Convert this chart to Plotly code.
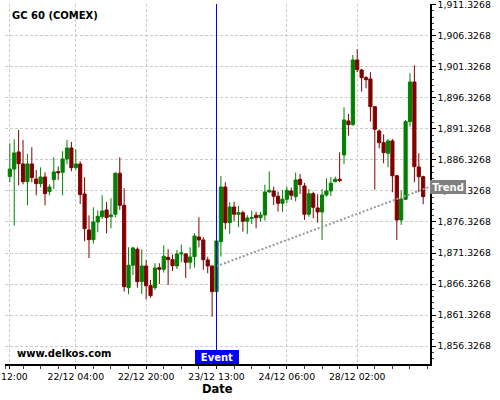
import plotly.graph_objects as go
import pandas as pd

# ---- data -------------------------------------------------------------
title_text = "GC 60 (COMEX)"
site_text = "www.delkos.com"

# hourly candle times (daily break at 23:00, Christmas close 24/12 20:00 -> 28/12 00:00)
_all = pd.date_range("2020-12-21 12:00", "2020-12-28 17:00", freq="h")
times = [t.strftime("%d/%m %H:%M") for t in _all
         if t.hour != 23 and not (pd.Timestamp("2020-12-24 20:00") <= t < pd.Timestamp("2020-12-28 00:00"))]

open_ = [1883.63, 1884.86, 1887.60, 1885.67, 1882.82, 1885.67, 1883.25, 1882.50, 1883.57, 1881.21,
         1883.14, 1884.43, 1884.32, 1886.47, 1888.24, 1885.07, 1885.67, 1880.84, 1875.04, 1873.48,
         1876.33, 1877.19, 1878.26, 1877.19, 1877.57, 1884.17, 1879.02, 1865.75, 1869.36, 1871.93,
         1866.72, 1869.24, 1866.07, 1865.75, 1868.97, 1868.71, 1870.64, 1870.26, 1869.24, 1871.18,
         1871.18, 1869.84, 1870.74, 1873.91, 1873.43, 1870.21, 1869.24, 1865.11, 1873.16, 1881.96,
         1876.22, 1878.74, 1877.57, 1877.83, 1876.44, 1876.92, 1877.41, 1877.02, 1877.45, 1881.16,
         1881.32, 1880.47, 1879.34, 1879.98, 1881.32, 1880.40, 1883.20, 1882.12, 1877.57, 1880.88,
         1878.58, 1877.94, 1880.67, 1881.32, 1882.82, 1883.20, 1887.11, 1892.59, 1891.99, 1902.41,
         1900.80, 1899.56, 1899.35, 1894.89, 1890.98, 1889.10, 1887.39, 1889.37, 1883.78, 1876.65,
         1879.98, 1892.48, 1898.87, 1885.18, 1883.62]
high = [1888.99, 1889.64, 1891.14, 1889.53, 1887.28, 1888.35, 1884.70, 1885.13, 1884.32, 1882.39,
        1886.74, 1885.24, 1887.71, 1889.53, 1889.21, 1888.03, 1886.10, 1883.52, 1877.40, 1878.69,
        1878.21, 1880.62, 1879.55, 1880.14, 1884.33, 1886.74, 1881.75, 1872.25, 1872.35, 1872.25,
        1871.93, 1870.21, 1866.99, 1869.68, 1869.68, 1872.58, 1871.93, 1871.06, 1871.82, 1872.67,
        1871.30, 1872.25, 1874.51, 1877.08, 1873.86, 1870.74, 1869.30, 1873.43, 1883.73, 1882.72,
        1879.50, 1879.60, 1878.90, 1878.15, 1877.41, 1878.15, 1877.99, 1877.94, 1882.33, 1884.49,
        1882.01, 1881.21, 1881.48, 1882.01, 1881.85, 1884.27, 1884.06, 1882.61, 1881.64, 1881.21,
        1880.79, 1881.59, 1883.36, 1883.57, 1883.62, 1887.55, 1894.79, 1893.72, 1903.21, 1904.13,
        1900.96, 1899.83, 1900.43, 1894.95, 1891.25, 1890.45, 1889.69, 1889.69, 1883.90, 1881.37,
        1892.75, 1900.27, 1901.56, 1887.39, 1883.78]
low = [1882.71, 1875.74, 1882.23, 1882.39, 1879.01, 1882.71, 1880.62, 1881.91, 1879.01, 1880.62,
       1881.64, 1883.09, 1880.62, 1885.61, 1884.49, 1884.70, 1879.23, 1873.22, 1870.53, 1872.84,
       1874.66, 1876.81, 1874.50, 1875.31, 1877.08, 1878.26, 1865.11, 1864.69, 1867.79, 1865.75,
       1864.74, 1863.88, 1864.14, 1865.38, 1866.35, 1868.17, 1866.18, 1868.44, 1868.76, 1869.84,
       1867.31, 1868.76, 1868.97, 1872.25, 1868.60, 1868.07, 1861.08, 1865.00, 1870.74, 1875.15,
       1874.40, 1876.38, 1875.47, 1874.77, 1874.40, 1876.01, 1875.31, 1876.38, 1876.54, 1881.05,
       1879.07, 1877.99, 1877.94, 1879.34, 1879.87, 1879.66, 1880.84, 1876.65, 1877.18, 1876.92,
       1876.22, 1873.43, 1880.40, 1880.51, 1882.72, 1882.77, 1885.67, 1890.22, 1891.83, 1900.43,
       1897.31, 1897.85, 1892.48, 1881.53, 1888.19, 1885.78, 1885.13, 1881.11, 1873.43, 1875.85,
       1879.87, 1891.67, 1882.72, 1881.11, 1879.18]
close = [1884.86, 1887.44, 1885.72, 1882.82, 1885.67, 1883.47, 1882.50, 1883.57, 1880.89, 1881.96,
         1884.38, 1884.27, 1886.47, 1888.24, 1885.07, 1885.67, 1880.73, 1875.25, 1873.48, 1876.33,
         1877.24, 1878.10, 1877.03, 1877.45, 1884.17, 1879.02, 1865.91, 1869.36, 1872.14, 1866.72,
         1869.24, 1866.07, 1864.46, 1868.92, 1868.71, 1870.81, 1870.26, 1869.29, 1871.18, 1871.34,
         1869.84, 1870.69, 1874.07, 1873.43, 1870.26, 1869.24, 1865.11, 1873.27, 1881.96, 1876.22,
         1878.74, 1877.57, 1877.83, 1876.44, 1876.97, 1877.02, 1877.02, 1877.45, 1881.16, 1881.43,
         1880.47, 1879.34, 1879.98, 1881.43, 1880.63, 1883.09, 1882.33, 1877.57, 1880.88, 1878.69,
         1877.94, 1880.67, 1881.32, 1882.56, 1883.20, 1882.98, 1892.75, 1891.99, 1902.41, 1900.85,
         1899.56, 1899.24, 1894.89, 1891.25, 1889.10, 1887.49, 1889.37, 1883.78, 1876.65, 1880.03,
         1892.48, 1898.87, 1885.23, 1883.62, 1880.40]

tick_labels = ["21/12 12:00", "22/12 04:00", "22/12 20:00", "23/12 13:00", "24/12 06:00", "28/12 02:00"]
event_time = "23/12 13:00"
event_text = "Event"
trend_text = "Trend"
trend_start_price = 1869.2   # at the event candle
trend_end_price = 1882.0     # at the right edge of the plot
y_tick0 = 1856.3268
y_tick_step = 5
x_title = "Date"

# ---- figure ------------------------------------------------------------
FONT = "DejaVu Sans"
GRID = "#cccccc"
x = list(range(len(times)))
event_x = times.index(event_time)
x_range = [-1.1, 95.55]
y_range = [1853.46, 1911.42]

# first label sits left of its tick in the original (edge-clipped); pad to mimic
NBSP = "\u00a0"
tick_text = [tick_labels[0] + NBSP * 7] + tick_labels[1:]

fig = go.Figure()
fig.add_trace(go.Candlestick(
    x=x, open=open_, high=high, low=low, close=close,
    increasing=dict(line=dict(color="#008000", width=1), fillcolor="#008000"),
    decreasing=dict(line=dict(color="#800000", width=1), fillcolor="#800000"),
    whiskerwidth=0, showlegend=False, hoverinfo="skip"))

fig.add_trace(go.Scatter(
    x=[event_x, x_range[1]], y=[trend_start_price, trend_end_price],
    mode="lines", line=dict(color="#999999", width=2, dash="2px,2px"),
    showlegend=False, hoverinfo="skip"))

fig.add_shape(type="line", xref="x", yref="paper", x0=event_x, x1=event_x, y0=0, y1=1,
              line=dict(color="#0000ff", width=1))

fig.update_layout(
    width=500, height=400,
    margin=dict(l=5, r=70, t=4, b=36),
    paper_bgcolor="white", plot_bgcolor="white",
    boxgap=0.28, boxgroupgap=0,
    font=dict(family=FONT, size=9.3, color="black"),
    xaxis=dict(
        range=x_range, tickmode="array",
        tickvals=[times.index(t) for t in tick_labels], ticktext=tick_text, tickangle=0,
        showgrid=True, gridcolor=GRID, griddash="3px,2px", gridwidth=1,
        showline=True, linecolor="black", linewidth=1.5,
        ticks="outside", ticklen=3, tickcolor="black", tickwidth=1,
        minor=dict(tick0=-1, dtick=4, ticks="outside", ticklen=3, tickcolor="#444", showgrid=False),
        tickfont=dict(family=FONT, size=9.3, color="black"),
        automargin=False, ticklabeloverflow="allow",
        zeroline=False, rangeslider=dict(visible=False), fixedrange=True),
    yaxis=dict(
        side="right", range=y_range, tickmode="linear", tick0=y_tick0, dtick=y_tick_step,
        tickformat=",.4f",
        showgrid=True, gridcolor=GRID, griddash="3px,2px", gridwidth=1,
        showline=True, linecolor="black", linewidth=1.5,
        ticks="outside", ticklen=4, tickcolor="black", tickwidth=1,
        minor=dict(tick0=y_tick0, dtick=1, ticks="outside", ticklen=2, tickcolor="#444", showgrid=False),
        tickfont=dict(family=FONT, size=9.3, color="black"),
        automargin=False, ticklabeloverflow="allow",
        zeroline=False, fixedrange=True),
)

fig.add_annotation(text="<b>%s</b>" % title_text, xref="paper", yref="paper",
                   x=0.0118, y=0.968, xanchor="left", yanchor="middle", showarrow=False,
                   font=dict(family=FONT, size=10, color="black"))
fig.add_annotation(text="<b>%s</b>" % site_text, xref="paper", yref="paper",
                   x=0.0235, y=0.0278, xanchor="left", yanchor="middle", showarrow=False,
                   font=dict(family=FONT, size=10, color="black"))
fig.add_annotation(text="<b>%s</b>" % event_text, xref="x", yref="paper",
                   x=event_x, y=0, xanchor="center", yanchor="bottom", showarrow=False,
                   width=40, height=10, borderpad=1, borderwidth=1, bordercolor="#0000ff",
                   bgcolor="#0000ff", font=dict(family=FONT, size=10, color="white"))
fig.add_annotation(text="<b>%s</b>" % trend_text, xref="paper", yref="y",
                   x=1.0, y=trend_end_price, xanchor="left", yanchor="middle", showarrow=False,
                   width=32, height=10, borderpad=1, borderwidth=1, bordercolor="#808080",
                   bgcolor="#808080", font=dict(family=FONT, size=10, color="white"))
fig.add_annotation(text="<b>%s</b>" % x_title, xref="paper", yref="paper",
                   x=0.5, y=-0.0708, xanchor="center", yanchor="middle", showarrow=False,
                   font=dict(family=FONT, size=11.5, color="black"))

fig.write_html("out.html", config={"displayModeBar": False},
               post_script="document.body.style.margin='0px';")
